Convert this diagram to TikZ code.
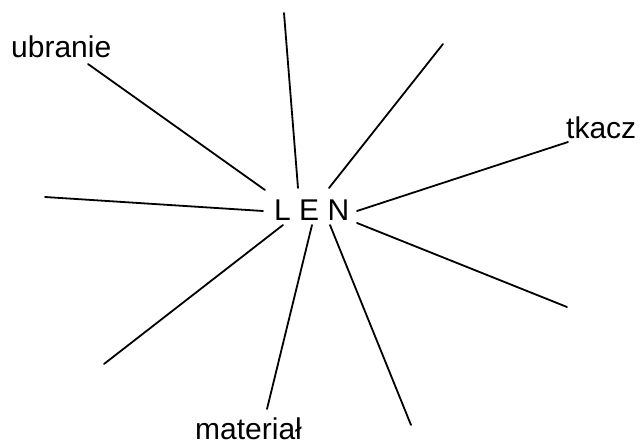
\documentclass[tikz,border=0pt]{standalone}
\usepackage{fontspec}
\setmainfont{Liberation Sans}
\usetikzlibrary{positioning}
\tikzset{
  wordlabel/.style={font=\fontsize{30}{36}\selectfont,inner sep=0pt,anchor=base west},
  spoke/.style={line width=1.8pt,line cap=round}
}
\begin{document}
\begin{tikzpicture}[x=1pt,y=-1pt]
  \useasboundingbox (0,0) rectangle (641,447);
  \node[wordlabel] (len) at (274,220) {L E N};
  \node[wordlabel] (ubranie) at (11,57) {ubranie};
  \node[wordlabel] (tkacz) at (566,138) {tkacz};
  \node[wordlabel] (material) at (195,439) {materiał};
  % spokes: outer end / inner end next to the word
  \foreach \n/\ox/\oy/\ix/\iy in {1/88/64/265/190,2/284/13/298/188,3/443/44/329/188,
      4/568/142/357/211,5/45/197/263/211,6/567/307/357/223,7/104/364/283/225,
      8/267/409/312/225,9/411/425/330/225} {
    \coordinate (out\n) at (\ox,\oy);
    \coordinate (in\n) at (\ix,\iy);
    \draw[spoke] (out\n) -- (in\n);
  }
\end{tikzpicture}
\end{document}
